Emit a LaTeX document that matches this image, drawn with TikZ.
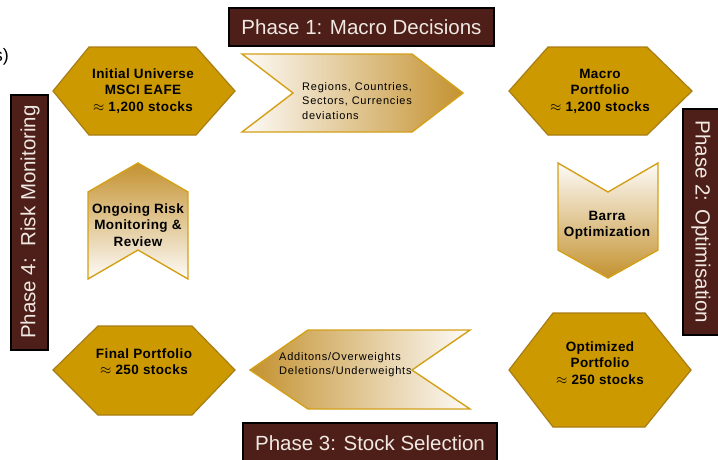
\documentclass[tikz,border=0pt]{standalone}
\usepackage{fontspec}
\setmainfont{Liberation Sans}
\newfontfamily\smallfont[LetterSpace=7]{Liberation Sans}
\newfontfamily\boldspaced[LetterSpace=3]{Liberation Sans}
\definecolor{hexfill}{RGB}{204,153,0}
\definecolor{hexline}{RGB}{168,125,20}
\definecolor{chevline}{RGB}{212,160,24}
\definecolor{chevgold}{RGB}{196,146,48}
\definecolor{chevwhite}{RGB}{253,251,248}
\definecolor{phasefill}{RGB}{78,30,24}
\definecolor{phasetext}{RGB}{240,232,226}
\tikzset{
  hexa/.style={fill=hexfill,draw=hexline,line width=1.2pt,line join=miter},
  chevedge/.style={draw=chevline,line width=1.4pt,line join=miter},
  phasebox/.style={fill=phasefill,draw=black,line width=1.2pt},
  phaselabel/.style={text=phasetext,font=\fontsize{20.5}{24}\selectfont,inner sep=0pt},
  hextext/.style={font=\fontsize{13.5}{16.5}\selectfont\boldspaced\bfseries,align=center,inner sep=0pt,text=black},
  chevtext/.style={font=\fontsize{11}{14.5}\selectfont\smallfont,align=left,inner sep=0pt,text=black},
}
\begin{document}
\begin{tikzpicture}[x=1pt,y=-1pt]
\useasboundingbox (0,0) rectangle (718,459);
\fill[white] (0,0) rectangle (718,459);

% stray text at left edge (cut off in the reference too)
\node[anchor=east,font=\fontsize{18}{20}\selectfont,inner sep=0pt] (stray) at (9,57) {s)};

% phase boxes
\draw[phasebox] (229,8) rectangle (494,46);
\node[phaselabel] (p1) at (361.5,27) {Phase 1: Macro Decisions};
\draw[phasebox] (683,109) rectangle (722,335);
\node[phaselabel,rotate=-90] (p2) at (701,222) {Phase 2: Optimisation};
\draw[phasebox] (243,423) rectangle (497,464);
\node[phaselabel] (p3) at (370,443) {Phase 3: Stock Selection};
\draw[phasebox] (11,95) rectangle (48,350);
\node[phaselabel,rotate=90] (p4) at (30,222) {Phase 4:\ \ Risk Monitoring};

% hexagons
\draw[hexa] (53,91) -- (89,47) -- (196,47) -- (235,91) -- (196,135) -- (89,135) -- cycle;
\node[hextext] (initial) at (143,91) {Initial Universe\\MSCI EAFE\\$\approx$ 1,200 stocks};
\draw[hexa] (509,91) -- (548,47) -- (647,47) -- (692,91) -- (647,135) -- (548,135) -- cycle;
\node[hextext] (macro) at (600,91) {Macro\\Portfolio\\$\approx$ 1,200 stocks};
\draw[hexa] (509,370) -- (553,313) -- (645,313) -- (691,370) -- (645,427) -- (553,427) -- cycle;
\node[hextext] (optimized) at (600,363) {Optimized\\Portfolio\\$\approx$ 250 stocks};
\draw[hexa] (53,370) -- (98,326) -- (192,326) -- (235,370) -- (192,415) -- (98,415) -- cycle;
\node[hextext] (final) at (144,361.5) {Final Portfolio\\$\approx$ 250 stocks};

% chevrons
\shade[left color=chevwhite,right color=chevgold] (242,54) -- (412,54) -- (463,93) -- (412,132) -- (242,132) -- (293,93) -- cycle;
\draw[chevedge] (242,54) -- (412,54) -- (463,93) -- (412,132) -- (242,132) -- (293,93) -- cycle;
\node[chevtext,anchor=west] (regions) at (302,101) {Regions, Countries,\\Sectors, Currencies\\deviations};

\shade[top color=chevwhite,bottom color=chevgold] (558,163) -- (608,192) -- (658,163) -- (658,250) -- (608,278) -- (558,250) -- cycle;
\draw[chevedge] (558,163) -- (608,192) -- (658,163) -- (658,250) -- (608,278) -- (558,250) -- cycle;
\node[hextext] (barra) at (607,225) {Barra\\Optimization};

\shade[left color=chevgold,right color=chevwhite] (250,370) -- (308,330) -- (470,330) -- (412,370) -- (470,409) -- (308,409) -- cycle;
\draw[chevedge] (250,370) -- (308,330) -- (470,330) -- (412,370) -- (470,409) -- (308,409) -- cycle;
\node[chevtext,anchor=west] (additions) at (279,364.5) {Additons/Overweights\\Deletions/Underweights};

\shade[top color=chevgold,bottom color=chevwhite] (88,192) -- (138,163) -- (188,192) -- (188,279) -- (138,250) -- (88,279) -- cycle;
\draw[chevedge] (88,192) -- (138,163) -- (188,192) -- (188,279) -- (138,250) -- (88,279) -- cycle;
\node[hextext] (ongoing) at (138,225) {Ongoing Risk\\Monitoring \&\\Review};
\end{tikzpicture}
\end{document}
